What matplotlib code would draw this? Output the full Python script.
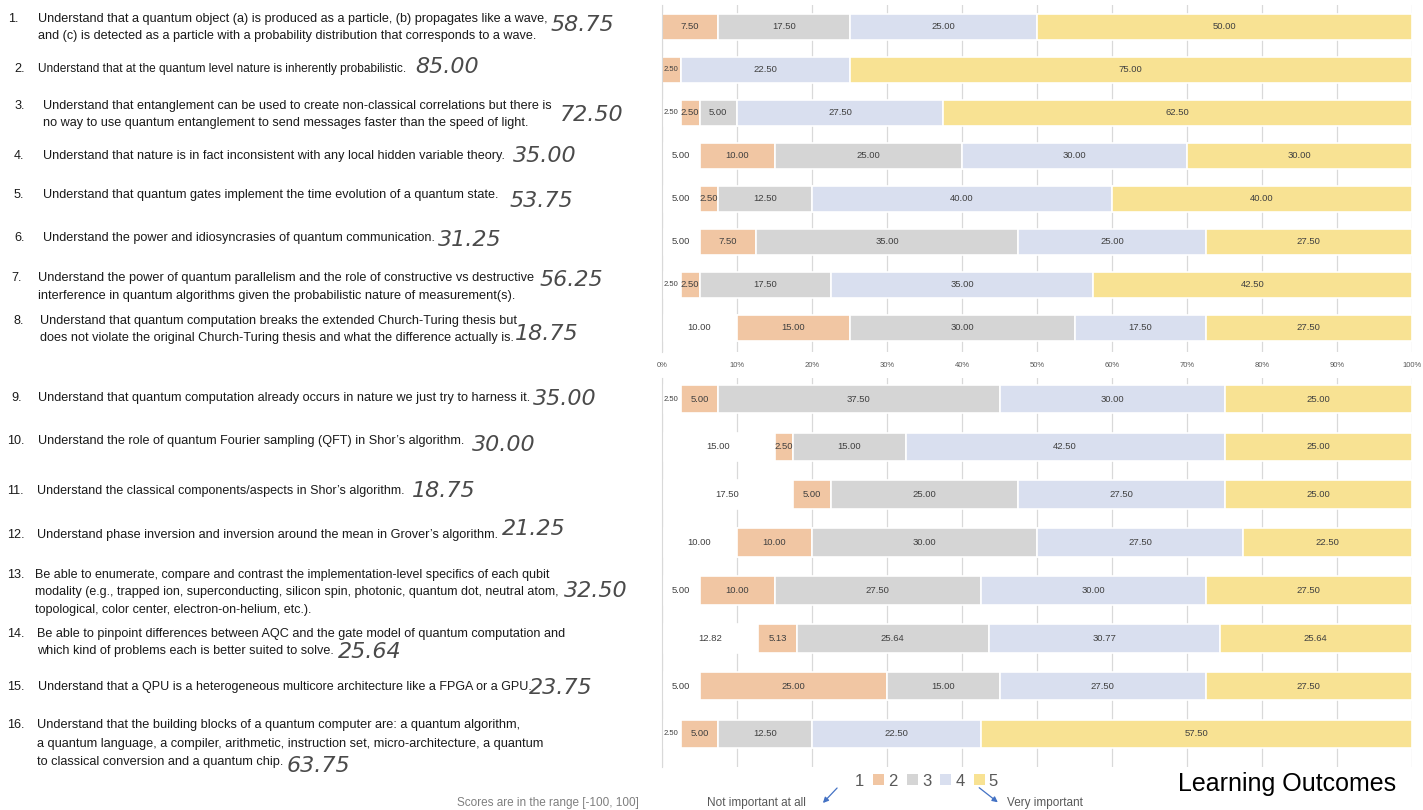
import matplotlib
matplotlib.use("Agg")
import matplotlib.pyplot as plt
from matplotlib.patches import Patch, FancyArrowPatch
import numpy as np

plt.rcParams['font.family'] = ['Liberation Sans', 'DejaVu Sans']

W, H = 1423, 810

# share of answers (%) per rating 1..5, one entry per learning outcome
r1 = [0.00, 0.00, 2.50, 5.00, 5.00, 5.00, 2.50, 10.00,
      2.50, 15.00, 17.50, 10.00, 5.00, 12.82, 5.00, 2.50]
r2 = [7.50, 2.50, 2.50, 10.00, 2.50, 7.50, 2.50, 15.00,
      5.00, 2.50, 5.00, 10.00, 10.00, 5.13, 25.00, 5.00]
r3 = [17.50, 0.00, 5.00, 25.00, 12.50, 35.00, 17.50, 30.00,
      37.50, 15.00, 25.00, 30.00, 27.50, 25.64, 15.00, 12.50]
r4 = [25.00, 22.50, 27.50, 30.00, 40.00, 25.00, 35.00, 17.50,
      30.00, 42.50, 27.50, 27.50, 30.00, 30.77, 27.50, 22.50]
r5 = [50.00, 75.00, 62.50, 30.00, 40.00, 27.50, 42.50, 27.50,
      25.00, 25.00, 25.00, 22.50, 27.50, 25.64, 27.50, 57.50]
ratings = ['1', '2', '3', '4', '5']
colors = ['#FFFFFF', '#F1C6A3', '#D5D5D5', '#D9DFEF', '#F8E293']

scores = ['58.75', '85.00', '72.50', '35.00', '53.75', '31.25', '56.25', '18.75',
          '35.00', '30.00', '18.75', '21.25', '32.50', '25.64', '23.75', '63.75']

outcomes = [
    ["Understand that a quantum object (a) is produced as a particle, (b) propagates like a wave,",
     "and (c) is detected as a particle with a probability distribution that corresponds to a wave."],
    ["Understand that at the quantum level nature is inherently probabilistic."],
    ["Understand that entanglement can be used to create non-classical correlations but there is",
     "no way to use quantum entanglement to send messages faster than the speed of light."],
    ["Understand that nature is in fact inconsistent with any local hidden variable theory."],
    ["Understand that quantum gates implement the time evolution of a quantum state."],
    ["Understand the power and idiosyncrasies of quantum communication."],
    ["Understand the power of quantum parallelism and the role of constructive vs destructive",
     "interference in quantum algorithms given the probabilistic nature of measurement(s)."],
    ["Understand that quantum computation breaks the extended Church-Turing thesis but",
     "does not violate the original Church-Turing thesis and what the difference actually is."],
    ["Understand that quantum computation already occurs in nature we just try to harness it."],
    ["Understand the role of quantum Fourier sampling (QFT) in Shor\u2019s algorithm."],
    ["Understand the classical components/aspects in Shor\u2019s algorithm."],
    ["Understand phase inversion and inversion around the mean in Grover\u2019s algorithm."],
    ["Be able to enumerate, compare and contrast the implementation-level specifics of each qubit",
     "modality (e.g., trapped ion, superconducting, silicon spin, photonic, quantum dot, neutral atom,",
     "topological, color center, electron-on-helium, etc.)."],
    ["Be able to pinpoint differences between AQC and the gate model of quantum computation and",
     "which kind of problems each is better suited to solve."],
    ["Understand that a QPU is a heterogeneous multicore architecture like a FPGA or a GPU."],
    ["Understand that the building blocks of a quantum computer are: a quantum algorithm,",
     "a quantum language, a compiler, arithmetic, instruction set, micro-architecture, a quantum",
     "to classical conversion and a quantum chip."],
]

# layout of the left text column (pixels in the screenshot)
num_x = [8, 14, 14, 14, 14, 14, 11, 14, 11, 7, 7, 7, 7, 7, 7, 7]
txt_x = [38, 38, 43, 43, 43, 43, 38, 40, 38, 38, 37, 37, 35, 37, 38, 37]
txt_size = [9.1, 8.55, 9.05, 9.1, 9.1, 9.1, 9.15, 9.1, 9.1, 9.05, 9.0, 9.05, 9.0, 9.1, 9.0, 9.15]
line_y = [19, 69, 106, 156, 195, 238, 278, 321, 398, 441, 491, 535, 575, 634, 687, 725]
line_gap = [17, 17, 17, 17, 17, 17, 18, 17, 17, 17, 17, 17, 17.5, 17, 17, 18.5]
score_x = [551, 415, 560, 513, 510, 438, 540, 515, 533, 472, 412, 502, 564, 338, 529, 287]
score_y = [25, 67, 115, 156, 201, 240, 280, 334, 399, 445, 491, 529, 591, 652, 688, 766]


def fx(x):
    return x / W


def fy(y):
    return 1 - y / H


fig = plt.figure(figsize=(W / 100, H / 100), dpi=100)

for i in range(16):
    fig.text(fx(num_x[i]), fy(line_y[i]), f"{i + 1}.", fontsize=9.1, color='#1a1a1a',
             ha='left', va='center')
    for j, line in enumerate(outcomes[i]):
        fig.text(fx(txt_x[i]), fy(line_y[i] + j * line_gap[i]), line, fontsize=txt_size[i],
                 color='#1a1a1a', ha='left', va='center')
    fig.text(fx(score_x[i]), fy(score_y[i]), scores[i], fontsize=16, color='#4a4a4a',
             style='italic', family='DejaVu Sans', ha='left', va='center')


def panel(rect, rows, top_pad, bottom_pad, show_ticks):
    ax = fig.add_axes(rect)
    data = np.array([r1, r2, r3, r4, r5])[:, rows]
    n = len(rows)
    y = np.arange(n)
    left = np.zeros(n)
    for k in range(5):
        bars = ax.barh(y, data[k], left=left, height=0.6, color=colors[k],
                       edgecolor='white', linewidth=1.2, zorder=2, label=ratings[k])
        for j, b in enumerate(bars):
            v = data[k][j]
            if v <= 0:
                continue
            small = v <= 2.5 and left[j] == 0
            ax.text(left[j] + v / 2, y[j], f"{v:.2f}", ha='center', va='center',
                    fontsize=5.5 if small else 6.8, color='#404040', zorder=3)
        left += data[k]
    ax.set_xlim(0, 100)
    ax.set_ylim(n - 1 + bottom_pad, -top_pad)
    ax.set_xticks(np.arange(0, 101, 10))
    ax.xaxis.grid(True, color='#D9D9D9', linewidth=0.9, zorder=0)
    ax.set_axisbelow(True)
    ax.set_yticks([])
    for s in ['top', 'right', 'bottom']:
        ax.spines[s].set_visible(False)
    ax.spines['left'].set_color('#D9D9D9')
    if show_ticks:
        ax.set_xticklabels([f"{t}%" for t in range(0, 101, 10)])
        ax.tick_params(axis='x', length=0, pad=7, labelsize=5.5, labelcolor='#595959')
    else:
        ax.tick_params(axis='x', length=0, labelbottom=False)
    return ax


ax_top = panel([fx(662), fy(352), 750 / W, 347 / H], list(range(8)), 0.51, 0.56, True)
ax_bot = panel([fx(662), fy(767), 750 / W, 389 / H], list(range(8, 16)), 0.44, 0.69, False)

handles = [Patch(facecolor=c, edgecolor='none') for c in colors]
fig.legend(handles, ratings, loc='center', bbox_to_anchor=(fx(919), fy(781)), ncol=5,
           frameon=False, fontsize=12, labelcolor='#595959', handlelength=0.65,
           handleheight=0.65, handletextpad=0.25, columnspacing=0.55)

fig.text(fx(1178), fy(784), "Learning Outcomes", fontsize=18, color='black',
         ha='left', va='center')
fig.text(fx(457), fy(803), "Scores are in the range [-100, 100]", fontsize=8.5,
         color='#7f7f7f', ha='left', va='center')
fig.text(fx(707), fy(803), "Not important at all", fontsize=8.5, color='#595959',
         ha='left', va='center')
fig.text(fx(1007), fy(803), "Very important", fontsize=8.5, color='#595959',
         ha='left', va='center')

arrow = dict(arrowstyle='-|>', color='#4472C4', lw=0.9, mutation_scale=8)
fig.add_artist(FancyArrowPatch((fx(839), fy(786)), (fx(821), fy(805)),
                               transform=fig.transFigure, **arrow))
fig.add_artist(FancyArrowPatch((fx(977), fy(786)), (fx(1000), fy(804)),
                               transform=fig.transFigure, **arrow))

fig.savefig("out.png", dpi=100)
